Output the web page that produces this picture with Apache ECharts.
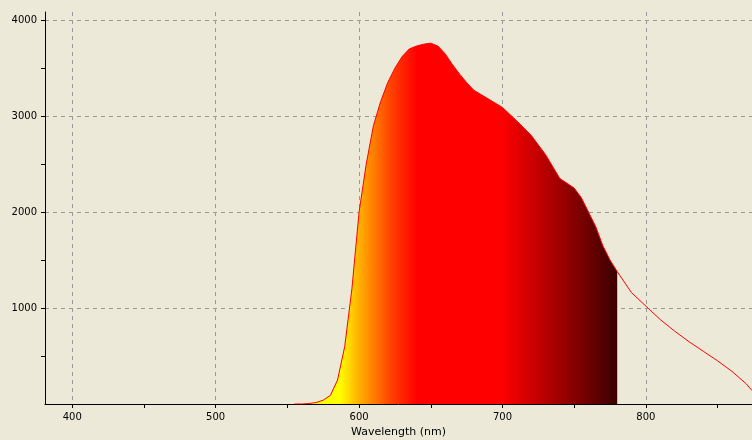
<!DOCTYPE html>
<html><head><meta charset="utf-8">
<script src="https://cdn.jsdelivr.net/npm/echarts@6/dist/echarts.min.js"></script>
<style>html,body{margin:0;padding:0;background:#ece9d8}#c{width:752px;height:440px}</style>
</head><body><div id="c"></div>
<script>
const wavelengths = [555,560,565,570,575,580,585,590,595,600,605,610,615,620,625,630,635,640,645,650,655,660,665,670,675,680,690,700,710,720,730,740,745,750,755,760,765,770,775,780,790,800,810,820,830,840,850,860,870,874];
const intensity =   [0,0,5,15,40,90,250,600,1200,2000,2500,2900,3150,3350,3500,3620,3700,3730,3750,3760,3730,3650,3540,3440,3350,3270,3180,3090,2950,2800,2600,2350,2300,2250,2150,2000,1850,1650,1500,1380,1160,1020,880,760,650,550,450,340,210,140];
const xTicks = [400,500,600,700,800];
const xMinor = [450,550,650,750,850];
const yTicks = [1000,2000,3000,4000];
const yMinor = [500,1500,2500,3500];
const fillEnd = 780;

const full = wavelengths.map((w,i)=>[w,intensity[i]]);
const filled = full.filter(p=>p[0]<=fillEnd);
const G = echarts.graphic.LinearGradient;
const font = {color:'#000',fontSize:10,fontFamily:'Verdana, DejaVu Sans'};
const chart = echarts.init(document.getElementById('c'));
const xBase = {type:'value',min:381,max:874,gridIndex:0};
const yBase = {type:'value',min:0,max:4085,gridIndex:0};
chart.setOption({
  backgroundColor:'#ece9d8',
  animation:false,
  grid:{left:45,right:0,top:12,bottom:36,outerBoundsMode:'none',containLabel:false},
  xAxis:[Object.assign({},xBase,{
    name:'Wavelength (nm)',nameLocation:'middle',nameGap:22,nameTextStyle:{color:'#000',fontSize:11,fontFamily:'Verdana, DejaVu Sans'},
    axisLine:{lineStyle:{color:'#000'}},
    axisTick:{customValues:xTicks,length:4,lineStyle:{color:'#000'}},
    axisLabel:Object.assign({customValues:xTicks,formatter:v=>String(v)},font),
    splitLine:{show:true,lineStyle:{color:'#999',type:[4,4]}}}),
   Object.assign({},xBase,{position:'bottom',
    axisLine:{show:false},axisLabel:{show:false},splitLine:{show:false},
    axisTick:{show:true,customValues:xMinor,length:4,lineStyle:{color:'#000'}}})],
  yAxis:[Object.assign({},yBase,{
    name:'Intensity (counts)',nameLocation:'middle',nameGap:38,nameTextStyle:{color:'#000',fontSize:11,fontFamily:'Verdana, DejaVu Sans'},
    axisLine:{show:true,lineStyle:{color:'#000'}},
    axisTick:{show:true,customValues:yTicks,length:4,lineStyle:{color:'#000'}},
    axisLabel:Object.assign({customValues:yTicks,formatter:v=>String(v)},font),
    splitLine:{show:true,lineStyle:{color:'#999',type:[4,4]}}}),
   Object.assign({},yBase,{position:'left',
    axisLine:{show:false},axisLabel:{show:false},splitLine:{show:false},
    axisTick:{show:true,customValues:yMinor,length:4,lineStyle:{color:'#000'}}})],
  series:[
    {type:'line',data:filled,symbol:'none',lineStyle:{width:0},
     areaStyle:{opacity:1,color:new G(0,0,1,0,[
       {offset:0,color:'#ffff00'},{offset:0.14,color:'#ffff00'},{offset:0.2,color:'#ffb000'},
       {offset:0.3,color:'#ff4000'},{offset:0.38,color:'#ff0000'},{offset:0.64,color:'#ff0000'},
       {offset:0.82,color:'#a00000'},{offset:1,color:'#3a0000'}])}},
    {type:'line',data:full,symbol:'none',lineStyle:{color:'#ff0000',width:1}}
  ]
});
</script></body></html>
